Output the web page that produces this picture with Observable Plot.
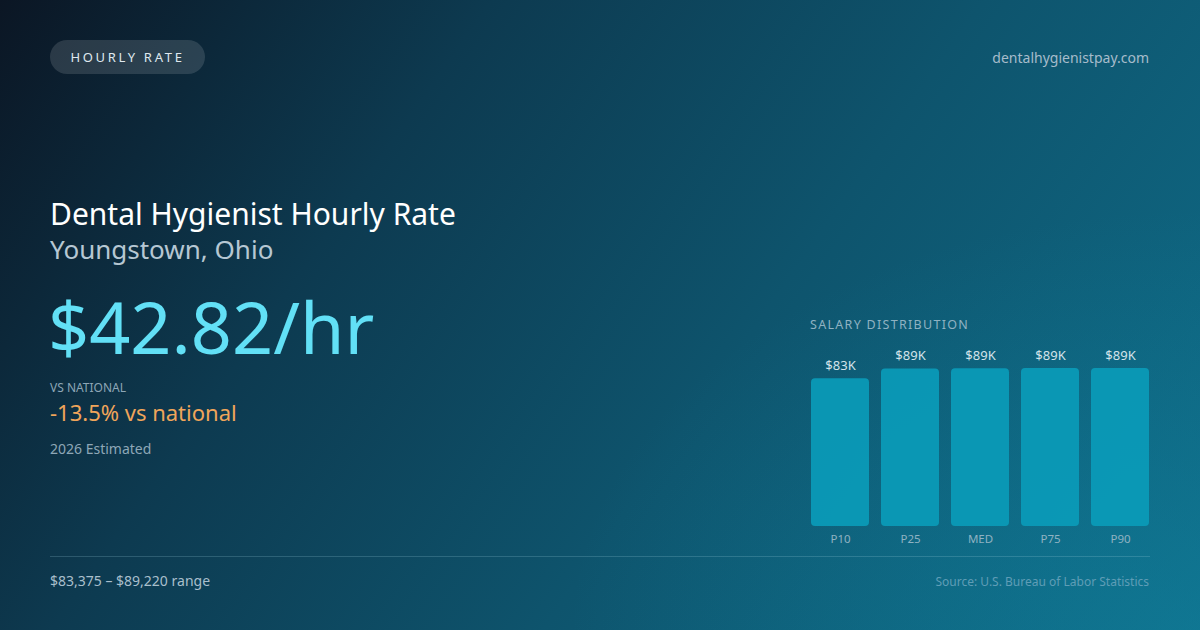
<!DOCTYPE html>
<html>
<head>
<meta charset="utf-8">
<script src="https://cdn.jsdelivr.net/npm/d3@7"></script>
<script src="https://cdn.jsdelivr.net/npm/@observablehq/plot@0.6"></script>
<style>
  html, body { margin: 0; padding: 0; }
  body { width: 1200px; height: 630px; overflow: hidden; font-family: "Noto Sans", "Open Sans", sans-serif; }
  #card {
    position: relative; width: 1200px; height: 630px; overflow: hidden;
    background:
      radial-gradient(ellipse 900px 600px at 100% 100%, rgba(16,128,156,0.5), rgba(16,128,156,0) 70%),
      linear-gradient(125deg, #0b1624 0%, #0d3a50 30%, #0e546d 60%, #0f6d89 100%);
  }
  .abs { position: absolute; white-space: nowrap; }
  #pill { left: 50px; top: 40px; width: 155px; height: 34px; border-radius: 17px; background: rgba(255,255,255,0.13);
          color: #dfe8ee; font-size: 13px; letter-spacing: 2.7px; line-height: 34px; text-align: center; }
  #site { right: 51px; top: 48px; color: #a6bccb; font-size: 14px; }
  #title { left: 50px; top: 194px; color: #ffffff; font-size: 30px; line-height: 40px; }
  #sub { left: 50px; top: 231px; color: #b6c7d3; font-size: 26px; line-height: 36px; }
  #big { left: 48px; top: 283px; color: #62e0f6; font-size: 72px; line-height: 1.2; }
  #vsl { left: 50px; top: 379px; color: #8da6b6; font-size: 12px; }
  #vs { left: 50px; top: 397px; color: #f0a55a; font-size: 22px; }
  #est { left: 50px; top: 439px; color: #8ea7b7; font-size: 14px; }
  #rule { left: 50px; top: 556px; width: 1100px; height: 1px; background: rgba(160,210,225,0.22); }
  #range { left: 50px; top: 571px; color: #a9bfcc; font-size: 14px; }
  #src { right: 51px; top: 573px; color: #5f9db6; font-size: 12px; }
  #dist { left: 810px; top: 316px; color: #8fb2c2; font-size: 12.5px; letter-spacing: 1.3px; }
  #chart { left: 800px; top: 340px; }
</style>
</head>
<body>
<div id="card">
  <div class="abs" id="pill">HOURLY RATE</div>
  <div class="abs" id="site">dentalhygienistpay.com</div>
  <div class="abs" id="title">Dental Hygienist Hourly Rate</div>
  <div class="abs" id="sub">Youngstown, Ohio</div>
  <div class="abs" id="big">$42.82/hr</div>
  <div class="abs" id="vsl">VS NATIONAL</div>
  <div class="abs" id="vs">-13.5% vs national</div>
  <div class="abs" id="est">2026 Estimated</div>
  <div class="abs" id="rule"></div>
  <div class="abs" id="range">$83,375 – $89,220 range</div>
  <div class="abs" id="src">Source: U.S. Bureau of Labor Statistics</div>
  <div class="abs" id="dist">SALARY DISTRIBUTION</div>
  <div class="abs" id="chart"></div>
</div>
<script>
const percentiles = ["P10", "P25", "MED", "P75", "P90"];
const salaries = [83375, 88900, 89070, 89150, 89220];

const data = percentiles.map((p, i) => ({ p, v: salaries[i] }));
const fmt = v => "$" + Math.round(v / 1000) + "K";

const chart = Plot.plot({
  width: 360,
  height: 210,
  marginLeft: 10,
  marginRight: 10,
  marginTop: 28,
  marginBottom: 24,
  style: { background: "transparent", fontFamily: "Noto Sans, Open Sans, sans-serif", overflow: "visible" },
  x: { domain: percentiles, paddingInner: 0.17, paddingOuter: 0, label: null },
  y: { domain: [0, d3.max(salaries)], axis: null },
  marks: [
    Plot.barY(data, { x: "p", y: "v", fill: "#0a9bb9", fillOpacity: 0.92, rx: 4 }),
    Plot.text(data, { x: "p", y: "v", text: d => fmt(d.v), dy: -13, fill: "#d3e3ea", fontSize: 13 }),
    Plot.axisX({ tickSize: 0, tickPadding: 8, fontSize: 11.5, color: "#8fb2c2", label: null })
  ]
});
document.getElementById("chart").appendChild(chart);
</script>
</body>
</html>
